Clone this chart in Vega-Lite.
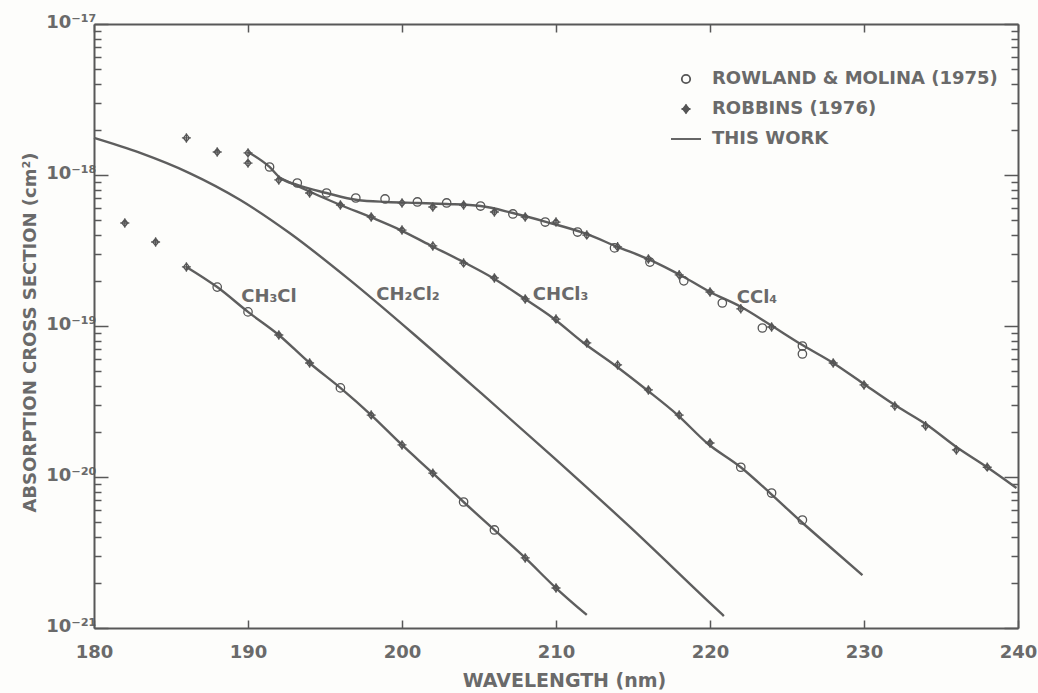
{
  "$schema": "https://vega.github.io/schema/vega-lite/v6.json",
  "width": 924,
  "height": 604,
  "autosize": {"type": "none"},
  "padding": {"left": 94, "top": 24, "right": 20, "bottom": 65},
  "background": "#fdfdfb",
  "config": {
    "view": {"stroke": null},
    "font": "DejaVu Sans",
    "axis": {
      "grid": false,
      "domainColor": "#585858",
      "domainWidth": 2,
      "tickColor": "#585858",
      "tickWidth": 1.5,
      "labelColor": "#6a6a6a",
      "labelFont": "DejaVu Sans",
      "labelFontSize": 18,
      "labelFontWeight": "bold",
      "titleColor": "#6a6a6a",
      "titleFont": "DejaVu Sans",
      "titleFontSize": 18,
      "titleFontWeight": "bold"
    }
  },
  "datasets": {
    "curves": [
      {"compound": "CH2Cl2", "wl": 180, "sigma": 1.76e-18},
      {"compound": "CH2Cl2", "wl": 183, "sigma": 1.40e-18},
      {"compound": "CH2Cl2", "wl": 186.2, "sigma": 1.03e-18},
      {"compound": "CH2Cl2", "wl": 189.5, "sigma": 6.83e-19},
      {"compound": "CH2Cl2", "wl": 192.7, "sigma": 4.13e-19},
      {"compound": "CH2Cl2", "wl": 196.6, "sigma": 2.02e-19},
      {"compound": "CH2Cl2", "wl": 201.2, "sigma": 8.08e-20},
      {"compound": "CH2Cl2", "wl": 205.1, "sigma": 3.62e-20},
      {"compound": "CH2Cl2", "wl": 209.8, "sigma": 1.36e-20},
      {"compound": "CH2Cl2", "wl": 214.8, "sigma": 4.67e-21},
      {"compound": "CH2Cl2", "wl": 219.8, "sigma": 1.53e-21},
      {"compound": "CH2Cl2", "wl": 220.9, "sigma": 1.20e-21},
      {"compound": "CH3Cl", "wl": 186, "sigma": 2.46e-19},
      {"compound": "CH3Cl", "wl": 188, "sigma": 1.81e-19},
      {"compound": "CH3Cl", "wl": 190, "sigma": 1.24e-19},
      {"compound": "CH3Cl", "wl": 192, "sigma": 8.72e-20},
      {"compound": "CH3Cl", "wl": 194, "sigma": 5.69e-20},
      {"compound": "CH3Cl", "wl": 196, "sigma": 3.89e-20},
      {"compound": "CH3Cl", "wl": 198, "sigma": 2.57e-20},
      {"compound": "CH3Cl", "wl": 200, "sigma": 1.63e-20},
      {"compound": "CH3Cl", "wl": 202, "sigma": 1.06e-20},
      {"compound": "CH3Cl", "wl": 204, "sigma": 6.83e-21},
      {"compound": "CH3Cl", "wl": 206, "sigma": 4.46e-21},
      {"compound": "CH3Cl", "wl": 208, "sigma": 2.91e-21},
      {"compound": "CH3Cl", "wl": 210, "sigma": 1.84e-21},
      {"compound": "CH3Cl", "wl": 212, "sigma": 1.22e-21},
      {"compound": "CHCl3", "wl": 192.1, "sigma": 9.55e-19},
      {"compound": "CHCl3", "wl": 193.2, "sigma": 8.46e-19},
      {"compound": "CHCl3", "wl": 196, "sigma": 6.33e-19},
      {"compound": "CHCl3", "wl": 198.1, "sigma": 5.19e-19},
      {"compound": "CHCl3", "wl": 199.9, "sigma": 4.32e-19},
      {"compound": "CHCl3", "wl": 201.8, "sigma": 3.44e-19},
      {"compound": "CHCl3", "wl": 204, "sigma": 2.65e-19},
      {"compound": "CHCl3", "wl": 205.9, "sigma": 2.08e-19},
      {"compound": "CHCl3", "wl": 207.9, "sigma": 1.53e-19},
      {"compound": "CHCl3", "wl": 209.8, "sigma": 1.13e-19},
      {"compound": "CHCl3", "wl": 211.8, "sigma": 7.72e-20},
      {"compound": "CHCl3", "wl": 213.8, "sigma": 5.52e-20},
      {"compound": "CHCl3", "wl": 215.9, "sigma": 3.77e-20},
      {"compound": "CHCl3", "wl": 217.9, "sigma": 2.57e-20},
      {"compound": "CHCl3", "wl": 219.8, "sigma": 1.68e-20},
      {"compound": "CHCl3", "wl": 222, "sigma": 1.16e-20},
      {"compound": "CHCl3", "wl": 223.9, "sigma": 7.83e-21},
      {"compound": "CHCl3", "wl": 225.8, "sigma": 5.19e-21},
      {"compound": "CHCl3", "wl": 227.8, "sigma": 3.44e-21},
      {"compound": "CHCl3", "wl": 229.9, "sigma": 2.24e-21},
      {"compound": "CCl4", "wl": 190, "sigma": 1.42e-18},
      {"compound": "CCl4", "wl": 191.4, "sigma": 1.13e-18},
      {"compound": "CCl4", "wl": 192.1, "sigma": 9.55e-19},
      {"compound": "CCl4", "wl": 193.2, "sigma": 8.59e-19},
      {"compound": "CCl4", "wl": 195.1, "sigma": 7.60e-19},
      {"compound": "CCl4", "wl": 197.1, "sigma": 6.83e-19},
      {"compound": "CCl4", "wl": 199, "sigma": 6.63e-19},
      {"compound": "CCl4", "wl": 201, "sigma": 6.53e-19},
      {"compound": "CCl4", "wl": 202.9, "sigma": 6.43e-19},
      {"compound": "CCl4", "wl": 205.1, "sigma": 6.23e-19},
      {"compound": "CCl4", "wl": 207.2, "sigma": 5.60e-19},
      {"compound": "CCl4", "wl": 209.4, "sigma": 4.88e-19},
      {"compound": "CCl4", "wl": 211.8, "sigma": 4.13e-19},
      {"compound": "CCl4", "wl": 214, "sigma": 3.34e-19},
      {"compound": "CCl4", "wl": 216.1, "sigma": 2.74e-19},
      {"compound": "CCl4", "wl": 218.3, "sigma": 2.11e-19},
      {"compound": "CCl4", "wl": 220, "sigma": 1.68e-19},
      {"compound": "CCl4", "wl": 222, "sigma": 1.34e-19},
      {"compound": "CCl4", "wl": 223.9, "sigma": 1.02e-19},
      {"compound": "CCl4", "wl": 226, "sigma": 7.48e-20},
      {"compound": "CCl4", "wl": 228, "sigma": 5.69e-20},
      {"compound": "CCl4", "wl": 229.9, "sigma": 4.19e-20},
      {"compound": "CCl4", "wl": 231.9, "sigma": 3.04e-20},
      {"compound": "CCl4", "wl": 234.1, "sigma": 2.21e-20},
      {"compound": "CCl4", "wl": 236, "sigma": 1.58e-20},
      {"compound": "CCl4", "wl": 238, "sigma": 1.16e-20},
      {"compound": "CCl4", "wl": 239.9, "sigma": 8.46e-21}
    ],
    "points": [
      {"source": "ROBBINS (1976)", "compound": "CH3Cl", "wl": 182, "sigma": 4.81e-19},
      {"source": "ROBBINS (1976)", "compound": "CH3Cl", "wl": 184, "sigma": 3.60e-19},
      {"source": "ROBBINS (1976)", "compound": "CH3Cl", "wl": 186, "sigma": 2.46e-19},
      {"source": "ROWLAND & MOLINA (1975)", "compound": "CH3Cl", "wl": 188, "sigma": 1.81e-19},
      {"source": "ROWLAND & MOLINA (1975)", "compound": "CH3Cl", "wl": 190, "sigma": 1.24e-19},
      {"source": "ROBBINS (1976)", "compound": "CH3Cl", "wl": 192, "sigma": 8.72e-20},
      {"source": "ROBBINS (1976)", "compound": "CH3Cl", "wl": 194, "sigma": 5.69e-20},
      {"source": "ROWLAND & MOLINA (1975)", "compound": "CH3Cl", "wl": 196, "sigma": 3.89e-20},
      {"source": "ROBBINS (1976)", "compound": "CH3Cl", "wl": 198, "sigma": 2.57e-20},
      {"source": "ROBBINS (1976)", "compound": "CH3Cl", "wl": 200, "sigma": 1.63e-20},
      {"source": "ROBBINS (1976)", "compound": "CH3Cl", "wl": 202, "sigma": 1.06e-20},
      {"source": "ROWLAND & MOLINA (1975)", "compound": "CH3Cl", "wl": 204, "sigma": 6.83e-21},
      {"source": "ROWLAND & MOLINA (1975)", "compound": "CH3Cl", "wl": 206, "sigma": 4.46e-21},
      {"source": "ROBBINS (1976)", "compound": "CH3Cl", "wl": 208, "sigma": 2.91e-21},
      {"source": "ROBBINS (1976)", "compound": "CH3Cl", "wl": 210, "sigma": 1.84e-21},
      {"source": "ROBBINS (1976)", "compound": "CHCl3", "wl": 186, "sigma": 1.76e-18},
      {"source": "ROBBINS (1976)", "compound": "CHCl3", "wl": 188, "sigma": 1.42e-18},
      {"source": "ROBBINS (1976)", "compound": "CHCl3", "wl": 190, "sigma": 1.20e-18},
      {"source": "ROBBINS (1976)", "compound": "CHCl3", "wl": 192, "sigma": 9.27e-19},
      {"source": "ROBBINS (1976)", "compound": "CHCl3", "wl": 194, "sigma": 7.60e-19},
      {"source": "ROBBINS (1976)", "compound": "CHCl3", "wl": 196, "sigma": 6.33e-19},
      {"source": "ROBBINS (1976)", "compound": "CHCl3", "wl": 198, "sigma": 5.27e-19},
      {"source": "ROBBINS (1976)", "compound": "CHCl3", "wl": 200, "sigma": 4.32e-19},
      {"source": "ROBBINS (1976)", "compound": "CHCl3", "wl": 202, "sigma": 3.39e-19},
      {"source": "ROBBINS (1976)", "compound": "CHCl3", "wl": 204, "sigma": 2.61e-19},
      {"source": "ROBBINS (1976)", "compound": "CHCl3", "wl": 206, "sigma": 2.08e-19},
      {"source": "ROBBINS (1976)", "compound": "CHCl3", "wl": 208, "sigma": 1.51e-19},
      {"source": "ROBBINS (1976)", "compound": "CHCl3", "wl": 210, "sigma": 1.11e-19},
      {"source": "ROBBINS (1976)", "compound": "CHCl3", "wl": 212, "sigma": 7.72e-20},
      {"source": "ROBBINS (1976)", "compound": "CHCl3", "wl": 214, "sigma": 5.52e-20},
      {"source": "ROBBINS (1976)", "compound": "CHCl3", "wl": 216, "sigma": 3.77e-20},
      {"source": "ROBBINS (1976)", "compound": "CHCl3", "wl": 218, "sigma": 2.57e-20},
      {"source": "ROBBINS (1976)", "compound": "CHCl3", "wl": 220, "sigma": 1.68e-20},
      {"source": "ROWLAND & MOLINA (1975)", "compound": "CHCl3", "wl": 222, "sigma": 1.16e-20},
      {"source": "ROWLAND & MOLINA (1975)", "compound": "CHCl3", "wl": 224, "sigma": 7.83e-21},
      {"source": "ROWLAND & MOLINA (1975)", "compound": "CHCl3", "wl": 226, "sigma": 5.19e-21},
      {"source": "ROBBINS (1976)", "compound": "CCl4", "wl": 190, "sigma": 1.40e-18},
      {"source": "ROBBINS (1976)", "compound": "CCl4", "wl": 200, "sigma": 6.53e-19},
      {"source": "ROBBINS (1976)", "compound": "CCl4", "wl": 202, "sigma": 6.14e-19},
      {"source": "ROBBINS (1976)", "compound": "CCl4", "wl": 204, "sigma": 6.33e-19},
      {"source": "ROBBINS (1976)", "compound": "CCl4", "wl": 206, "sigma": 5.69e-19},
      {"source": "ROBBINS (1976)", "compound": "CCl4", "wl": 208, "sigma": 5.27e-19},
      {"source": "ROBBINS (1976)", "compound": "CCl4", "wl": 210, "sigma": 4.88e-19},
      {"source": "ROBBINS (1976)", "compound": "CCl4", "wl": 212, "sigma": 4.00e-19},
      {"source": "ROBBINS (1976)", "compound": "CCl4", "wl": 214, "sigma": 3.34e-19},
      {"source": "ROBBINS (1976)", "compound": "CCl4", "wl": 216, "sigma": 2.78e-19},
      {"source": "ROBBINS (1976)", "compound": "CCl4", "wl": 218, "sigma": 2.18e-19},
      {"source": "ROBBINS (1976)", "compound": "CCl4", "wl": 220, "sigma": 1.68e-19},
      {"source": "ROBBINS (1976)", "compound": "CCl4", "wl": 222, "sigma": 1.30e-19},
      {"source": "ROBBINS (1976)", "compound": "CCl4", "wl": 224, "sigma": 9.85e-20},
      {"source": "ROBBINS (1976)", "compound": "CCl4", "wl": 228, "sigma": 5.69e-20},
      {"source": "ROBBINS (1976)", "compound": "CCl4", "wl": 230, "sigma": 4.07e-20},
      {"source": "ROBBINS (1976)", "compound": "CCl4", "wl": 232, "sigma": 2.95e-20},
      {"source": "ROBBINS (1976)", "compound": "CCl4", "wl": 234, "sigma": 2.18e-20},
      {"source": "ROBBINS (1976)", "compound": "CCl4", "wl": 236, "sigma": 1.51e-20},
      {"source": "ROBBINS (1976)", "compound": "CCl4", "wl": 238, "sigma": 1.16e-20},
      {"source": "ROWLAND & MOLINA (1975)", "compound": "CCl4", "wl": 191.4, "sigma": 1.13e-18},
      {"source": "ROWLAND & MOLINA (1975)", "compound": "CCl4", "wl": 193.2, "sigma": 8.85e-19},
      {"source": "ROWLAND & MOLINA (1975)", "compound": "CCl4", "wl": 195.1, "sigma": 7.60e-19},
      {"source": "ROWLAND & MOLINA (1975)", "compound": "CCl4", "wl": 197, "sigma": 7.04e-19},
      {"source": "ROWLAND & MOLINA (1975)", "compound": "CCl4", "wl": 198.9, "sigma": 6.94e-19},
      {"source": "ROWLAND & MOLINA (1975)", "compound": "CCl4", "wl": 201, "sigma": 6.63e-19},
      {"source": "ROWLAND & MOLINA (1975)", "compound": "CCl4", "wl": 202.9, "sigma": 6.53e-19},
      {"source": "ROWLAND & MOLINA (1975)", "compound": "CCl4", "wl": 205.1, "sigma": 6.23e-19},
      {"source": "ROWLAND & MOLINA (1975)", "compound": "CCl4", "wl": 207.2, "sigma": 5.52e-19},
      {"source": "ROWLAND & MOLINA (1975)", "compound": "CCl4", "wl": 209.3, "sigma": 4.88e-19},
      {"source": "ROWLAND & MOLINA (1975)", "compound": "CCl4", "wl": 211.4, "sigma": 4.19e-19},
      {"source": "ROWLAND & MOLINA (1975)", "compound": "CCl4", "wl": 213.8, "sigma": 3.29e-19},
      {"source": "ROWLAND & MOLINA (1975)", "compound": "CCl4", "wl": 216.1, "sigma": 2.65e-19},
      {"source": "ROWLAND & MOLINA (1975)", "compound": "CCl4", "wl": 218.3, "sigma": 1.99e-19},
      {"source": "ROWLAND & MOLINA (1975)", "compound": "CCl4", "wl": 220.8, "sigma": 1.42e-19},
      {"source": "ROWLAND & MOLINA (1975)", "compound": "CCl4", "wl": 223.4, "sigma": 9.70e-20},
      {"source": "ROWLAND & MOLINA (1975)", "compound": "CCl4", "wl": 226, "sigma": 7.37e-20},
      {"source": "ROWLAND & MOLINA (1975)", "compound": "CCl4", "wl": 226, "sigma": 6.53e-20}
    ],
    "labels": [
      {"text": "CH₃Cl", "wl": 191.36, "sigma": 1.56e-19},
      {"text": "CH₂Cl₂", "wl": 200.39, "sigma": 1.60e-19},
      {"text": "CHCl₃", "wl": 210.3, "sigma": 1.60e-19},
      {"text": "CCl₄", "wl": 223.05, "sigma": 1.53e-19}
    ]
  },
  "resolve": {"axis": {"x": "independent", "y": "independent"}},
  "layer": [
    {
      "data": {"name": "curves"},
      "mark": {"type": "line", "interpolate": "monotone", "stroke": "#5e5e5e", "strokeWidth": 2.4},
      "encoding": {
        "x": {
          "field": "wl", "type": "quantitative",
          "scale": {"domain": [180, 240], "nice": false, "zero": false},
          "axis": {
            "orient": "bottom",
            "values": [180, 190, 200, 210, 220, 230, 240],
            "format": "d",
            "tickSize": -8,
            "labelPadding": 23,
            "labelFlush": false,
            "title": "WAVELENGTH (nm)",
            "titleFontSize": 19,
            "titleX": 470,
            "titleY": 52,
            "titleBaseline": "middle",
            "titleAlign": "center"
          }
        },
        "y": {
          "field": "sigma", "type": "quantitative",
          "scale": {"type": "log", "domain": [1e-21, 1e-17], "nice": false},
          "axis": {
            "orient": "left",
            "values": [1e-21, 2e-21, 3e-21, 4e-21, 5e-21, 6e-21, 7e-21, 8e-21, 9e-21, 1e-20, 2e-20, 3e-20, 4e-20, 5e-20, 6e-20, 7e-20, 8e-20, 9e-20, 1e-19, 2e-19, 3e-19, 4e-19, 5e-19, 6e-19, 7e-19, 8e-19, 9e-19, 1e-18, 2e-18, 3e-18, 4e-18, 5e-18, 6e-18, 7e-18, 8e-18, 9e-18, 1e-17],
            "labelExpr": "abs(log(datum.value)/LN10 - round(log(datum.value)/LN10)) > 0.01 ? '' : round(log(datum.value)/LN10) == -17 ? '10⁻¹⁷' : round(log(datum.value)/LN10) == -18 ? '10⁻¹⁸' : round(log(datum.value)/LN10) == -19 ? '10⁻¹⁹' : round(log(datum.value)/LN10) == -20 ? '10⁻²⁰' : '10⁻²¹'",
            "tickSize": {"condition": {"test": "abs(log(datum.value)/LN10 - round(log(datum.value)/LN10)) < 0.01", "value": -14}, "value": -7},
            "labelPadding": 12,
            "labelOffset": 3,
            "labelBaseline": "alphabetic",
            "labelOverlap": false,
            "labelFlush": false,
            "title": "ABSORPTION CROSS SECTION (cm²)",
            "titleX": -64,
            "titleY": 308,
            "titleAngle": -90,
            "titleBaseline": "middle",
            "titleAlign": "center"
          }
        },
        "detail": {"field": "compound"}
      }
    },
    {
      "data": {"name": "points"},
      "mark": {"type": "point", "filled": false, "stroke": "#555555", "strokeWidth": 1.3, "size": 900, "opacity": 1},
      "encoding": {
        "x": {
          "field": "wl", "type": "quantitative",
          "axis": {"orient": "top", "values": [180, 190, 200, 210, 220, 230, 240], "labels": false, "tickSize": -8, "title": null}
        },
        "y": {
          "field": "sigma", "type": "quantitative",
          "axis": {
            "orient": "right",
            "values": [1e-21, 2e-21, 3e-21, 4e-21, 5e-21, 6e-21, 7e-21, 8e-21, 9e-21, 1e-20, 2e-20, 3e-20, 4e-20, 5e-20, 6e-20, 7e-20, 8e-20, 9e-20, 1e-19, 2e-19, 3e-19, 4e-19, 5e-19, 6e-19, 7e-19, 8e-19, 9e-19, 1e-18, 2e-18, 3e-18, 4e-18, 5e-18, 6e-18, 7e-18, 8e-18, 9e-18, 1e-17],
            "labels": false,
            "tickSize": {"condition": {"test": "abs(log(datum.value)/LN10 - round(log(datum.value)/LN10)) < 0.01", "value": -14}, "value": -7},
            "title": null
          }
        },
        "shape": {
          "field": "source", "type": "nominal",
          "scale": {
            "domain": ["ROWLAND & MOLINA (1975)", "ROBBINS (1976)", "THIS WORK"],
            "range": [
              "M0.28,0A0.28,0.28,0,1,1,-0.28,0A0.28,0.28,0,1,1,0.28,0Z",
              "M0,-0.25L0.2,0L0,0.25L-0.2,0Z M-0.3,0L0.3,0 M0,-0.32L0,0.32",
              "M-1,0L1,0"
            ]
          },
          "legend": {
            "title": null,
            "orient": "none",
            "legendX": 576,
            "legendY": 39,
            "symbolSize": 900,
            "symbolStrokeColor": "#555555",
            "symbolFillColor": "transparent",
            "symbolStrokeWidth": 1.8,
            "symbolType": "circle",
            "labelFont": "DejaVu Sans",
            "labelFontSize": 18,
            "labelFontWeight": "bold",
            "labelColor": "#6a6a6a",
            "labelOffset": 10,
            "labelLimit": 400,
            "rowPadding": 5,
            "padding": 0
          }
        }
      }
    },
    {
      "data": {"name": "labels"},
      "mark": {"type": "text", "font": "DejaVu Sans", "fontSize": 18, "fontWeight": "bold", "color": "#6a6a6a", "align": "center", "baseline": "middle"},
      "encoding": {
        "x": {"field": "wl", "type": "quantitative", "axis": null},
        "y": {"field": "sigma", "type": "quantitative", "axis": null},
        "text": {"field": "text"}
      }
    }
  ]
}
